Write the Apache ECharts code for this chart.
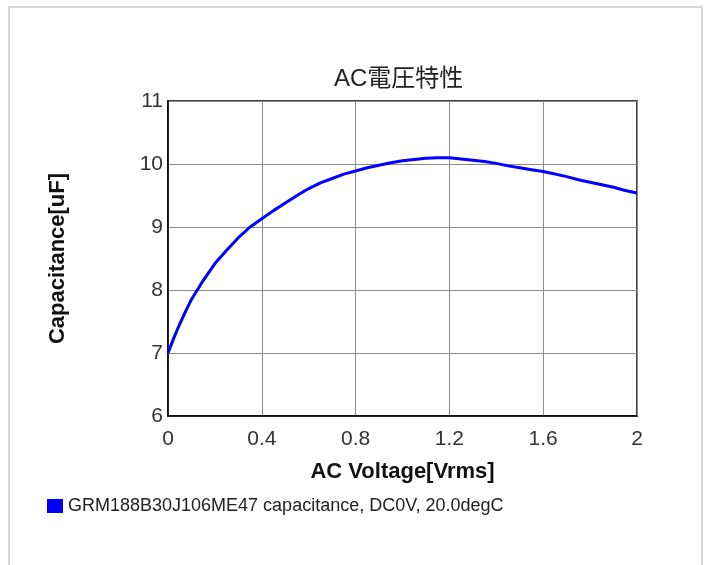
<!DOCTYPE html>
<html>
<head>
    <meta charset="utf-8">
    <title>AC電圧特性</title>
    <script src="https://cdn.jsdelivr.net/npm/echarts@6.0.0/dist/echarts.min.js"></script>
    <style>
        html, body { margin: 0; padding: 0; background: #fff; }
        #main { width: 707px; height: 565px; }
    </style>
</head>
<body>
    <div id="main"></div>

    <script>
        // AC voltage [Vrms] vs capacitance [uF]
        const voltage = [0, 0.025, 0.05, 0.075, 0.1, 0.15, 0.2, 0.25, 0.3, 0.35, 0.4, 0.45, 0.5, 0.55, 0.6,
            0.65, 0.7, 0.75, 0.8, 0.85, 0.9, 0.95, 1.0, 1.05, 1.1, 1.15, 1.2, 1.25, 1.3, 1.35, 1.4,
            1.45, 1.5, 1.55, 1.6, 1.65, 1.7, 1.75, 1.8, 1.85, 1.9, 1.95, 2.0];
        const capacitance = [7.00, 7.24, 7.46, 7.66, 7.85, 8.15, 8.42, 8.63, 8.83, 9.00, 9.13, 9.26, 9.38, 9.50, 9.61,
            9.70, 9.77, 9.84, 9.89, 9.94, 9.98, 10.02, 10.05, 10.07, 10.09, 10.10, 10.10, 10.08, 10.06, 10.04, 10.01,
            9.97, 9.94, 9.91, 9.88, 9.84, 9.80, 9.75, 9.71, 9.67, 9.63, 9.58, 9.54];
        const seriesName = 'GRM188B30J106ME47 capacitance, DC0V, 20.0degC';

        const font = "'Liberation Sans', 'Noto Sans CJK JP', sans-serif";

        var chartDom = document.getElementById('main');
        var myChart = echarts.init(chartDom);

        const option = {
            animation: false,
            textStyle: { fontFamily: font },
            title: {
                text: 'AC電圧特性',
                left: 329,
                top: 62,
                textStyle: { fontSize: 24, fontWeight: 'normal', color: '#222', fontFamily: font }
            },
            graphic: [{
                type: 'rect',
                shape: { x: 9, y: 7, width: 693, height: 600 },
                style: { fill: 'none', stroke: '#d4d7db', lineWidth: 2 },
                silent: true
            }],
            grid: {
                left: 168, top: 101, right: 70, bottom: 149,
                show: true, borderColor: '#000', borderWidth: 1.5
            },
            legend: {
                left: 42, top: 492,
                icon: 'rect', itemWidth: 16, itemHeight: 14, itemGap: 10,
                textStyle: { fontSize: 18, color: '#222', fontFamily: font },
                data: [seriesName]
            },
            xAxis: {
                type: 'value',
                min: 0, max: 2, interval: 0.4,
                name: 'AC Voltage[Vrms]',
                nameLocation: 'middle',
                nameGap: 45,
                nameTextStyle: { fontSize: 22, fontWeight: 'bold', color: '#111', fontFamily: font },
                axisLine: { show: true, lineStyle: { color: '#000', width: 1.5 } },
                axisTick: { show: false },
                axisLabel: { fontSize: 21, color: '#333', margin: 13, fontFamily: font },
                splitLine: { show: true, lineStyle: { color: '#8c8c8c', width: 1 } }
            },
            yAxis: {
                type: 'value',
                min: 6, max: 11, interval: 1,
                name: 'Capacitance[uF]',
                nameLocation: 'middle',
                nameGap: 99,
                nameTextStyle: { fontSize: 22, fontWeight: 'bold', color: '#111', fontFamily: font },
                axisLine: { show: true, lineStyle: { color: '#000', width: 1.5 } },
                axisTick: { show: false },
                axisLabel: { fontSize: 21, color: '#333', margin: 5, fontFamily: font },
                splitLine: { show: true, lineStyle: { color: '#8c8c8c', width: 1 } }
            },
            series: [{
                name: seriesName,
                type: 'line',
                data: voltage.map((v, i) => [v, capacitance[i]]),
                showSymbol: false,
                smooth: false,
                lineStyle: { color: '#0000ff', width: 3 },
                itemStyle: { color: '#0000ff' }
            }]
        };

        myChart.setOption(option);
    </script>
</body>
</html>
